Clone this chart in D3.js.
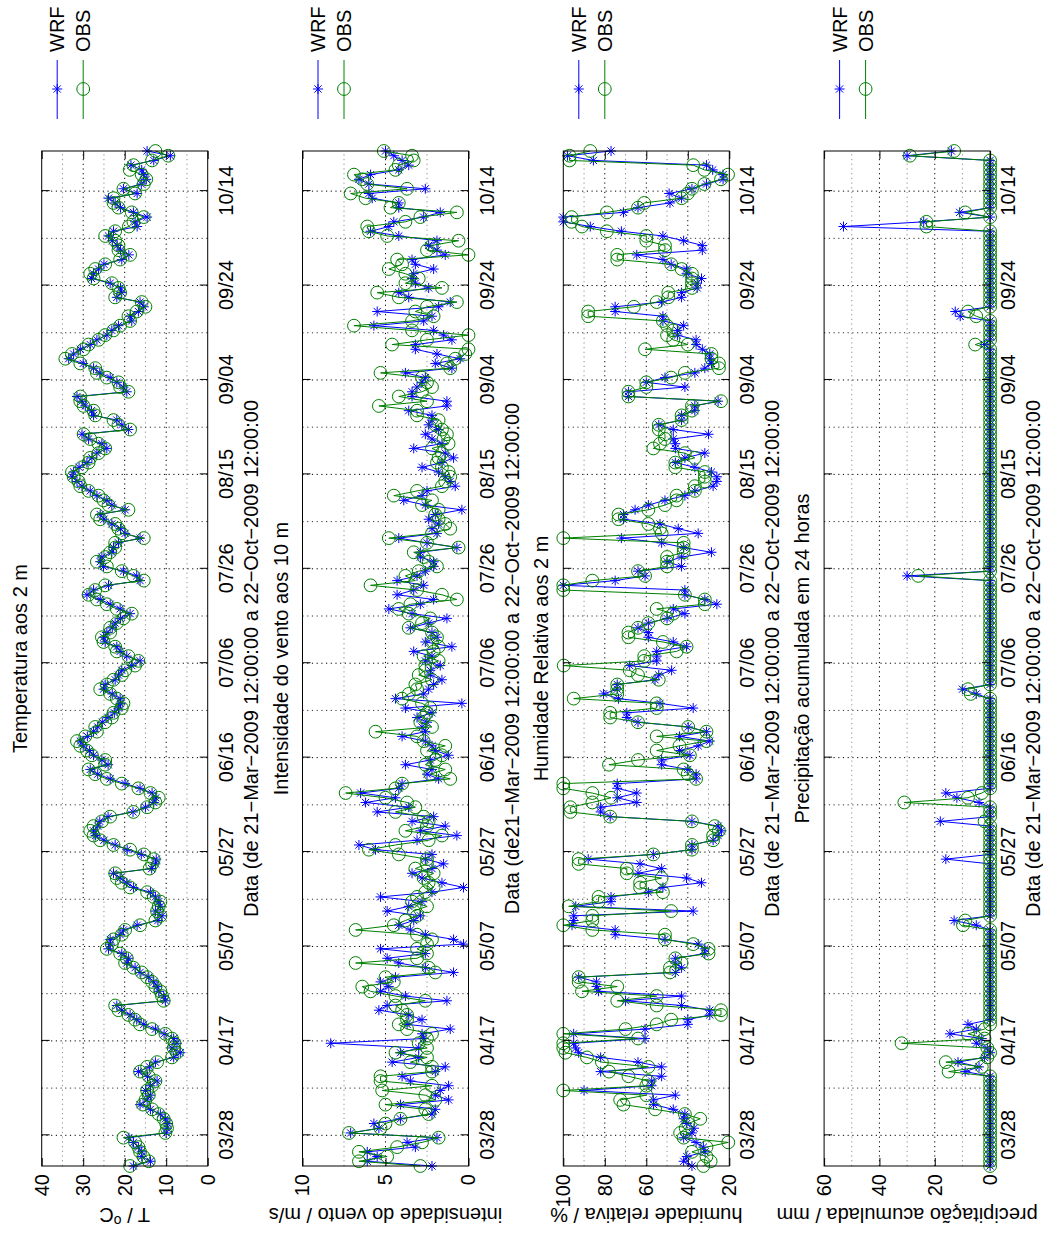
<!DOCTYPE html>
<html><head><meta charset="utf-8"><title>WRF vs OBS 2009</title>
<script src="https://cdn.jsdelivr.net/npm/d3@7/dist/d3.min.js"></script>
<style>
html,body{margin:0;padding:0;background:#fff;}
svg{display:block;}
</style></head><body>
<svg id="chart" width="1043" height="1239"></svg>
<script>
// ---------- data (daily values, 21-Mar-2009 12:00 .. 22-Oct-2009 12:00) ----------
const dateTickLabels = ["03/28","04/17","05/07","05/27","06/16","07/06","07/26","08/15","09/04","09/24","10/14"];
const minorDateTickLabels = ["04/07","04/27","05/17","06/06","06/26","07/16","08/05","08/25","09/14","10/04"];

const panelTitles = ["Temperatura aos 2 m","Intensidade do vento aos 10 m","Humidade Relativa aos 2 m","Precipitação acumulada em 24 horas"];
const xLabels = [
  "Data (de 21\u2212Mar\u22122009 12:00:00 a 22\u2212Oct\u22122009 12:00:00",
  "Data (de21\u2212Mar\u22122009 12:00:00 a 22\u2212Oct\u22122009 12:00:00",
  "Data (de 21\u2212Mar\u22122009 12:00:00 a 22\u2212Oct\u22122009 12:00:00",
  "Data (de 21\u2212Mar\u22122009 12:00:00 a 22\u2212Oct\u22122009 12:00:00"];
const yLabels = ["T / oC","intensidade do vento / m/s","humidade relativa / %","precipitação acumulada / mm"];
const yDomains = [[0,40],[0,10],[20,100],[0,60]];
const yTicks = [[0,10,20,30,40],[0,5,10],[20,40,60,80,100],[0,20,40,60]];
const yMinorTicks = [[5,15,25,35],[2.5,7.5],[30,50,70,90],[10,30,50]];
const seriesNames = ["WRF","OBS"];

const tempWRF = [17.9,13.8,15.9,15.9,16.7,17.9,19,10,9.8,9.6,
10.2,11.4,13.8,16.3,14.6,13.8,15,13.8,12.2,14.5,
16.7,14,12.6,8.2,6.6,8.6,7.4,8.2,10.5,12.6,
15.4,17.1,18.7,20.7,21.9,10.2,10.6,11.8,12.2,13,
14.2,16.3,17.5,19.5,19.1,20.7,23.9,23.5,23.5,21.1,
20.3,17,12,11,12.6,11.4,11.8,12.6,13.8,17.9,
19.5,21.1,22.7,13.5,12.6,12.4,16,19.4,22.3,25,
27,27.5,26.5,26,24,18,15,13,12.5,13.4,
16.3,19.9,23.5,26.5,28.3,24,25.5,27.5,28.5,30,
30.7,29,27.5,26.5,25.4,24,22.5,21.5,21,21.1,
23,25.1,24.7,22.3,21.5,20.7,18.3,16.3,19.5,21.1,
21.9,24.7,25.1,24.3,23,22.3,21,18.7,21.1,23.5,
25.9,29.1,27.5,23.9,16.3,17.1,20.3,25.1,25.9,25.5,
23.1,22.7,21.5,16.3,19.9,21,23.1,25,25.9,19.9,
23.1,24.3,26.7,28.3,30.3,31.5,32.7,32.3,31,29.1,
27.9,26.7,24.3,25.5,28.7,30.3,19.1,20.7,21.9,27.5,
28,29.5,30.3,31.5,19.5,20.3,21.9,23.5,26,27.5,
30,33.5,32.3,30.7,28.3,26.7,24.3,23.1,21.5,18.3,
18.7,16.7,15.4,16.3,21.9,20.7,21,23.5,28,27.5,
26.3,25,20.7,19,21,21.8,23,23.9,22.7,17,
17.5,14.6,17.9,21,22.3,23.9,17,20.3,16,14.8,
15.5,15.9,18.5,13,9,14.6];

const tempOBS = [18.7,14.2,15.5,16.3,16.7,17.5,20.3,10.2,9.8,10,
10.6,11.8,13.4,15.6,15,14.2,14.6,13.4,12.6,14.2,
16.3,14.6,12.2,8.6,7.4,8.2,8,8.6,10.2,13.4,
16.3,17.5,19.1,21.5,22.3,10.6,11,11.4,12.6,13.4,
14.6,15.9,17.9,19.9,19.5,21.1,24.3,23.1,22.7,20.7,
19.9,16.3,12.6,11.4,12.2,11.8,11.4,13,14.6,18.7,
20.7,21.9,22.3,14,13.4,13,15.4,18.7,22.7,25.9,
27.5,28.3,27.5,25.5,23.5,17.9,14.6,12.6,11.8,13.8,
16.7,20.7,24.3,27.1,28.7,24.7,24.7,27.9,29.1,30.7,
31.5,29.5,26.7,27.1,24.7,23.1,22.7,20.7,20.3,21.9,
23.5,25.9,24.3,22.7,20.7,19.9,17.5,16.7,19.1,21.9,
22.3,25.1,25.5,23.5,23.5,21.9,20.3,18.3,21.9,24.3,
26.7,28.7,27.1,24.7,15.4,17.9,20.7,24.3,26.7,24.7,
23.5,22.3,22.3,15.4,20.7,21.5,22.3,25.9,26.7,19.1,
23.9,25.1,26.3,28.7,30.7,31.1,32.3,32.7,30.3,28.7,
28.3,26.3,24.7,26.3,28.3,29.9,18.7,21.5,22.7,27.1,
27.5,29.9,30.7,30.7,19.1,21.1,21.5,24.3,26.7,27.1,
30.7,34.3,32.7,29.9,28.7,26.3,24.7,22.7,21.1,18.7,
19.1,17.1,15,15.9,22.3,21.1,21.5,23.1,27.5,28.3,
27.1,24.7,21.1,18.7,21.5,21.5,22.3,24.7,22.3,19,
17.9,15.4,18.3,21.5,22.7,22.7,17.5,20.3,15.4,14.8,
15.9,18.8,17.9,13.4,9.5,12.6];

const windWRF = [2.2,6.1,5.5,6.1,3.2,3.7,1.9,7.1,5.4,5.7,
4.1,2.2,2,4.1,1.2,2,1.7,1.2,3.5,4,
2,1.4,4.6,3,4.1,3,8.3,2.7,2.8,1.1,
3.7,2.8,3.6,5.4,4.9,1.3,3.8,5.3,4.8,5.3,
4.4,0.9,2.6,4.2,4.9,2.6,5.3,0.3,0.9,2.6,
3.5,4.2,3.3,2.9,4.9,3.6,2.8,5.3,2.2,0.3,
1.6,2.8,3.4,2.2,1.5,2.6,2.2,5.6,6.6,3.1,
0.7,2.9,1.4,3.4,2.1,5.5,3.6,6.2,4.4,6.5,
4.2,4,1.8,2.5,2.2,3.8,2.3,1.2,2,2.2,
2.6,4,2.6,2.8,2.5,3.1,2.2,3.8,0.4,4.4,
2.7,2.4,2.1,1.6,2.3,2.3,1.7,2.6,2.2,3.3,
1,2.6,1.9,2.2,3.5,2.4,1.3,3.4,4.8,2.9,
2.1,4.3,3.3,2.7,4.3,3.1,2.6,2.1,2.1,2.9,
2.9,0.7,2.5,4.2,1.9,2.2,1.8,2.4,2,0.4,
2.6,3.9,2.8,2.5,0.8,1.1,1.4,1.8,2.8,1.6,
0.9,1.4,3.3,1.6,2.2,2.6,1.8,2.4,2.2,2.2,
3.6,1.3,1.3,3.4,3.4,3.1,2.8,2.6,3.8,1,
2,0.5,1.9,3.2,3.2,1,1.5,2.1,5.7,2.7,
2.2,5.5,1.8,1.1,3.6,4.2,2.4,3.2,3.4,3.3,
2.1,3.2,3.4,1.4,1.9,2.4,1.9,4.2,5.9,4.8,
4.5,2.7,1.7,4.2,4.2,5.8,6,2.6,6,6.6,
5.9,4.2,3.6,4,4.5,5];

const windOBS = [2.9,6.6,4.9,6.6,4.3,2.8,1.8,7.2,5.3,5,
4.1,2.4,2.6,5,2,2.6,5.2,2.2,5.3,5.3,
2.2,2.2,3.5,2.5,4.4,2.5,3,2.5,2.2,3.7,
4.2,3.7,3.7,4,4.4,2.6,4.4,5.9,6.4,4.5,
5,2,2.4,6.8,3.1,2.5,3.1,2.5,2.2,3.1,
6.8,4.5,3.8,3.1,3.3,2.5,3.4,3.1,2.6,2.1,
2.4,2.7,2.1,3.2,2.5,2.5,4.2,6,4.4,2.4,
1.6,3.8,2.5,2.4,2.7,4.4,3.2,3.7,5,7.4,
4.4,4,1.1,2.3,1.4,2.6,2,1.6,2.5,1.4,
2.7,3.1,5.6,2.2,2.9,2.7,2.5,2.3,2.8,4,
3.6,3.1,3.2,2.2,3,2.6,2.6,1.8,2.7,2.1,
1.8,2.2,1.9,2.2,3.6,2.8,2.3,3.6,4.2,3.5,
0.7,1.6,3.1,5.9,3.2,3.8,3,1.9,2.4,2.7,
3.3,0.6,2.5,4.8,2.2,1.1,1.4,1.8,2,1.8,
2.8,2.2,4.5,3.1,1.6,1.4,1.1,1.2,1.6,1.9,
1.8,1.6,2.2,1.2,1.5,1.3,1.6,2,1.8,3.1,
3.1,5.4,2.5,4.2,2.8,2.2,2.5,2.8,5.3,1.1,
1.3,0.8,0.2,0,4.6,2.5,0,3.4,6.9,3.4,
2.1,3.2,2.5,0.7,4.2,5.5,1.6,3.8,3,3.8,
4.8,4,4.3,0,2.5,2.2,0.6,4.9,6,6.1,
3.8,2.9,0.7,4.7,4.2,6.2,7.1,3.7,6.1,6.4,
6.9,4.4,4.2,3.3,3.4,5.1];

const humWRF = [38,42,40.5,31.7,32.5,36,42,38,37,40.5,
42,41.4,47,56.5,56.6,46,90,57.4,57.4,52.6,
82,52.6,64,82,92.6,94,95,60.6,95,60.6,
40,40,29.4,29.4,43,70,43,83,84,84,
92.6,46,43,46,46,31.8,31.8,35,51,75,
75,95.8,95,95,37.4,94,77,77,59,52,
33.4,40.6,64,52.6,63,88,56.6,38,38,27.8,
25.4,23.8,25.4,38,77.4,82,82,64.6,74,64.6,
74,74,36,36,40,52.6,52.6,39,44,35,
29.4,44,31,39.8,64,69.4,69.4,37.4,53.4,73.4,
80.6,74,74,55.8,54,47.8,68,55,55,55,
40.6,47,59,59,64,59,50,41.4,47,26,
31.8,41.4,41.4,100,75,60.6,64,43,50,43,
28.6,42,52.6,72,35,44.6,53.4,71,71,65.4,
59,51,41.4,36.6,27.8,26,26,28.6,36.6,46,
41.4,31.8,46,46,47,30,47,54,43,43,
36.6,36.6,25.4,68.6,68.6,41.4,60,51,36.6,31.8,
28.6,29.4,29.4,33,36,36,45,45,42,52,
52,75,75,52.6,43,43,35.5,35.5,33.4,40.6,
40.6,48,52,64.6,33,33,42,52,72,87,
100,100,71,64,48.6,43,49,38,31,23,
23,28,31,85.5,98,77];

const humOBS = [32.5,29,31,38,31,20.5,42,43.7,41,39.8,
34,41.4,55.7,71,72.6,60,100,60,59,68.6,
78,59,81.4,88.6,99,100,100,64,100,70,
55,48,24,24,55,74,55,91,74,92.6,
92.6,48.6,48.6,43,46,30,30,37.4,51,51,
86,100,86,86,48,97.4,83,83,52,63,
63,52.6,69.4,69.4,92.6,92.6,56.6,38,38,27.8,
27.8,25,27,38,77.4,96.6,96.6,86,77,86,
100,100,36,40,42,78,64,39,55,44,
31,55,31,39.8,64,77.4,77.4,55,55,95,
74,74,74,54,64,68,99.8,61,61,45.4,
40.6,52,68.6,68.6,64,59,50,47,55,31.8,
31.8,41.4,100,100,86,60.6,64,50,50,50,
42,42,42,100,52.6,53.4,59,73.4,73.4,59,
51,45.4,45.4,36.6,36.6,31.8,31.8,31.8,46,46,
36.6,41.4,56.6,53.4,51,51,54,54,43,43,
38,38,24,68.6,68.6,60,60,48,41.4,25,
25,28.6,28.6,60.6,40,47,50,47,50,52,
88,88,66,55,49.4,49.4,38,38,38,38,
43,48,74,74,51,51,60,60,79,91,
96,96,79,64,61,43,40,38,32,24,
20.6,32,37.4,97,97,87];

const precWRF = [0,0,0,0,0,0,0,0,0,0,
0,0,0,0,0,0,0,0,0,0,
9,4,11.6,2,0,1,5,3,14.5,5,
8,0,0,0,0,0,0,0,0,0,
0,0,0,0,0,0,0,0,0,0,
0,5,13,0,0,0,0,0,0,0,
0,0,0,0,0,16,0,0,0,0,
0,0,0,18,0,0,0,4,12,16,
0,0,0,0,0,0,0,0,0,0,
0,0,0,0,0,0,0,0,0,0,
5,10,0,0,0,0,0,0,0,0,
0,0,0,0,0,0,0,0,0,0,
0,0,0,0,0,30,0,0,0,0,
0,0,0,0,0,0,0,0,0,0,
0,0,0,0,0,0,0,0,0,0,
0,0,0,0,0,0,0,0,0,0,
0,0,0,0,0,0,0,0,0,0,
0,0,0,0,2,0,0,0,0,0,
10.8,12.6,0,0,0,0,0,0,0,0,
0,0,0,0,0,0,0,0,0,53,
24,0,11,0,0,0,0,0,0,0,
0,0,0,0,30,14];

const precOBS = [0,0,0,0,0,0,0,0,0,0,
0,0,0,0,0,0,0,0,0,0,
15,3,16,1,0,1,32,2,8,2,
0,0,0,0,0,0,0,0,0,0,
0,0,0,0,0,0,0,0,0,0,
0,9.8,9,0,0,0,0,0,0,0,
0,0,0,0,0,0,0,0,0,0,
0,0,0,2,0,0,0,31,8,3,
0,0,0,0,0,0,0,0,0,0,
0,0,0,0,0,0,0,0,0,0,
7,8,0,0,0,0,0,0,0,0,
0,0,0,0,0,0,0,0,0,0,
0,0,0,0,0,26,0,0,0,0,
0,0,0,0,0,0,0,0,0,0,
0,0,0,0,0,0,0,0,0,0,
0,0,0,0,0,0,0,0,0,0,
0,0,0,0,0,0,0,0,0,0,
0,0,0,0,5.4,0,0,0,0,0,
5,8,0,0,0,0,0,0,0,0,
0,0,0,0,0,0,0,0,0,23,
23,0,9,0,0,0,0,0,0,0,
0,0,0,0,29,13];

const panelSeries = [[tempWRF,tempOBS],[windWRF,windOBS],[humWRF,humOBS],[precWRF,precOBS]];

// ---------- drawing (figure drawn in portrait orientation, then rotated -90°) ----------
const FONT = '"Liberation Sans", Arial, Helvetica, sans-serif';
const FS = 20;
const BLUE = '#0000ff', GREEN = '#008000';
const svg = d3.select('#chart');
svg.append('rect').attr('width',1043).attr('height',1239).attr('fill','#fff');
const root = svg.append('g')
  .attr('transform','translate(0,1239) rotate(-90)')
  .attr('font-family',FONT).attr('font-size',FS);

const DAY = 86400000;
const t0 = Date.UTC(2009,2,21,12);
const dates = tempWRF.map((_,i)=>new Date(t0 + i*DAY));
const parseMD = s => { const [m,d] = s.split('/').map(Number); return new Date(Date.UTC(2009,m-1,d)); };
const majorDates = dateTickLabels.map(parseMD);
const minorDates = minorDateTickLabels.map(parseMD);

const X0 = 73, X1 = 1088;
const x = d3.scaleUtc().domain([dates[0], dates[dates.length-1]]).range([X0, X1]);
const PTOP0 = 41.7, PSTEP = 260.8, PH = 166;
const starPath = "M-5,0H5M0,-5V5M-3.6,-3.6L3.6,3.6M-3.6,3.6L3.6,-3.6";

panelSeries.forEach((pair,k)=>{
  const top = PTOP0 + PSTEP*k, bot = top + PH;
  const y = d3.scaleLinear().domain(yDomains[k]).range([bot, top]);
  const g = root.append('g');

  // grids
  const gg = g.append('g').attr('fill','none');
  gg.selectAll(null).data(yMinorTicks[k]).join('line')
    .attr('x1',X0).attr('x2',X1).attr('y1',d=>y(d)).attr('y2',d=>y(d))
    .attr('stroke','#8c8c8c').attr('stroke-width',1).attr('stroke-dasharray','1.2,3.5');
  gg.selectAll(null).data(yTicks[k].slice(1,-1)).join('line')
    .attr('x1',X0).attr('x2',X1).attr('y1',d=>y(d)).attr('y2',d=>y(d))
    .attr('stroke','#000').attr('stroke-width',1).attr('stroke-dasharray','1.2,3.5');
  gg.selectAll(null).data(minorDates).join('line')
    .attr('x1',d=>x(d)).attr('x2',d=>x(d)).attr('y1',top).attr('y2',bot)
    .attr('stroke','#333').attr('stroke-width',1).attr('stroke-dasharray','1.2,3.5');
  gg.selectAll(null).data(majorDates).join('line')
    .attr('x1',d=>x(d)).attr('x2',d=>x(d)).attr('y1',top).attr('y2',bot)
    .attr('stroke','#000').attr('stroke-width',1).attr('stroke-dasharray','1.2,3.5');

  // series
  const [wrf, obs] = pair;
  const line = d3.line().x((d,i)=>x(dates[i])).y(d=>y(d));
  g.append('path').attr('d',line(wrf)).attr('fill','none').attr('stroke',BLUE).attr('stroke-width',1);
  g.append('g').selectAll(null).data(wrf).join('path')
    .attr('transform',(d,i)=>`translate(${x(dates[i])},${y(d)})`)
    .attr('d',starPath).attr('fill','none').attr('stroke',BLUE).attr('stroke-width',1);
  g.append('path').attr('d',line(obs)).attr('fill','none').attr('stroke',GREEN).attr('stroke-width',1);
  g.append('g').selectAll(null).data(obs).join('circle')
    .attr('cx',(d,i)=>x(dates[i])).attr('cy',d=>y(d)).attr('r',6.4)
    .attr('fill','none').attr('stroke',GREEN).attr('stroke-width',1);

  // axes (ticks inward)
  const axB = g.append('g').attr('transform',`translate(0,${bot})`)
    .call(d3.axisBottom(x).tickValues(majorDates).tickFormat((d,i)=>dateTickLabels[i]).tickSize(-8).tickPadding(11));
  const axT = g.append('g').attr('transform',`translate(0,${top})`)
    .call(d3.axisTop(x).tickValues(majorDates).tickFormat('').tickSize(-8));
  const axL = g.append('g').attr('transform',`translate(${X0},0)`)
    .call(d3.axisLeft(y).tickValues(yTicks[k]).tickFormat(d3.format('d')).tickSize(-8).tickPadding(8));
  const axR = g.append('g').attr('transform',`translate(${X1},0)`)
    .call(d3.axisRight(y).tickValues(yTicks[k]).tickFormat('').tickSize(-8));
  [axB,axT,axL,axR].forEach(a=>{
    a.attr('font-family',FONT).attr('font-size',FS).attr('color','#000');
    a.select('.domain').remove();
  });

  // frame
  g.append('rect').attr('x',X0).attr('y',top).attr('width',X1-X0).attr('height',PH)
    .attr('fill','none').attr('stroke','#000').attr('stroke-width',1);

  // title, x label, y label
  const cx = (X0+X1)/2;
  root.append('text').attr('x',cx).attr('y',top-15).attr('text-anchor','middle').text(panelTitles[k]);
  root.append('text').attr('x',cx).attr('y',bot+50).attr('text-anchor','middle').text(xLabels[k]);
  const yl = root.append('text').attr('transform',`translate(31,${(top+bot)/2}) rotate(-90)`).attr('text-anchor','middle');
  if (k===0) {
    yl.append('tspan').text('T / ');
    yl.append('tspan').attr('dy',-8).attr('font-size',14).text('o');
    yl.append('tspan').attr('dy',8).text('C');
  } else {
    yl.text(yLabels[k]);
  }

  // legend (outside, right of axes in portrait orientation)
  const lg = root.append('g');
  const legY = [top+15.5, top+41.5];
  const cols = [BLUE, GREEN];
  seriesNames.forEach((nm,j)=>{
    lg.append('line').attr('x1',1120).attr('x2',1179).attr('y1',legY[j]).attr('y2',legY[j])
      .attr('stroke',cols[j]).attr('stroke-width',1);
    if (j===0) lg.append('path').attr('transform',`translate(1150,${legY[j]})`).attr('d',starPath)
      .attr('fill','none').attr('stroke',BLUE);
    else lg.append('circle').attr('cx',1150).attr('cy',legY[j]).attr('r',6.4)
      .attr('fill','none').attr('stroke',GREEN);
    lg.append('text').attr('x',1187).attr('y',legY[j]).attr('dy','0.35em').text(nm);
  });
});
</script>
</body></html>
